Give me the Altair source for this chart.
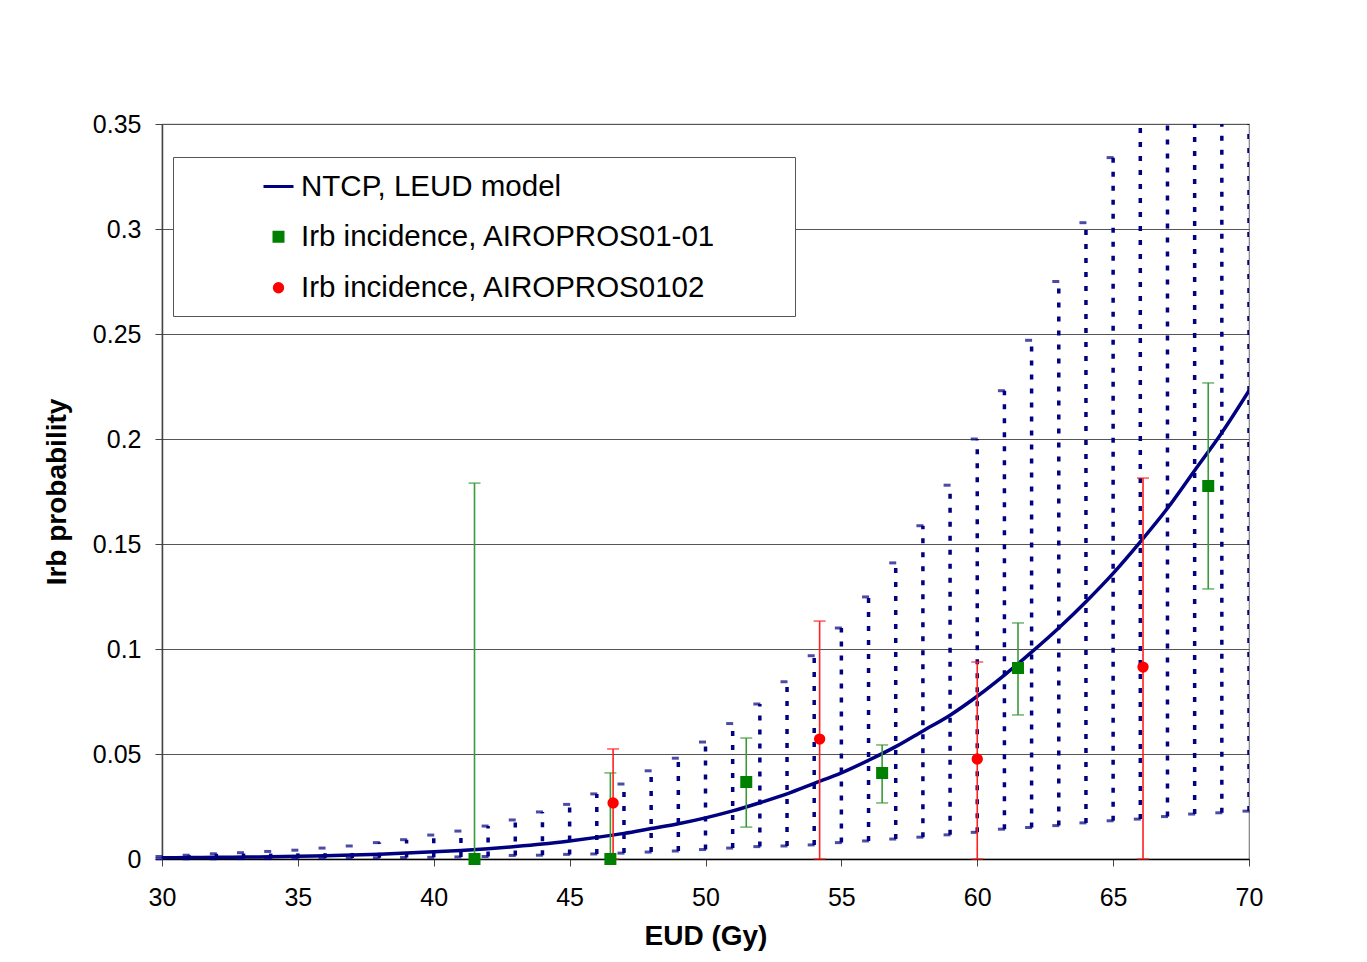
import altair as alt
import pandas as pd

NAVY = "#000080"
FONT = "Liberation Sans"

# ---- model band (dotted confidence interval) and NTCP curve at each integer EUD ----
eud = list(range(30, 71))
band_upper = [0.0012, 0.0018, 0.0025, 0.0030, 0.0036, 0.0042, 0.0052, 0.0062, 0.0078, 0.0092,
              0.0114, 0.0133, 0.0157, 0.0186, 0.0224, 0.0260, 0.0310, 0.0357, 0.0420, 0.0480,
              0.0557, 0.0645, 0.0738, 0.0844, 0.0968, 0.1100, 0.1248, 0.1410, 0.1587, 0.1780,
              0.2000, 0.2230, 0.2470, 0.2750, 0.3030, 0.3340, 0.3660, 0.4000, 0.4350, 0.4700,
              0.5100]
band_lower = [0.0000, 0.0001, 0.0001, 0.0002, 0.0002, 0.0003, 0.0004, 0.0005, 0.0006, 0.0007,
              0.0008, 0.0010, 0.0012, 0.0017, 0.0018, 0.0022, 0.0024, 0.0028, 0.0033, 0.0038,
              0.0045, 0.0052, 0.0059, 0.0062, 0.0067, 0.0078, 0.0086, 0.0095, 0.0104, 0.0115,
              0.0127, 0.0142, 0.0150, 0.0159, 0.0172, 0.0182, 0.0190, 0.0202, 0.0214, 0.0220,
              0.0228]
ntcp = [0.0006, 0.0007, 0.0008, 0.0009, 0.0011, 0.0013, 0.0016, 0.0019, 0.0023, 0.0028,
        0.0034, 0.0041, 0.0049, 0.0059, 0.0071, 0.0086, 0.0103, 0.0122, 0.0145, 0.0168,
        0.0196, 0.0229, 0.0268, 0.0310, 0.0360, 0.0410, 0.0470, 0.0535, 0.0610, 0.0685,
        0.0775, 0.0876, 0.0985, 0.1100, 0.1225, 0.1360, 0.1510, 0.1670, 0.1850, 0.2030,
        0.2230]

S_MODEL = "NTCP, LEUD model"
S_A = "Irb incidence, AIROPROS01-01"
S_B = "Irb incidence, AIROPROS0102"
series_names = [S_MODEL, S_A, S_B]

# ---- observed incidences with error bars ----
a_x = [41.5, 46.5, 51.5, 56.5, 61.5, 68.5]
a_val = [0.0, 0.0, 0.0367, 0.0410, 0.0910, 0.1776]
a_lo = [0.0, 0.0, 0.0152, 0.0267, 0.0686, 0.1286]
a_hi = [0.179, 0.041, 0.0576, 0.0543, 0.1124, 0.2267]

b_x = [46.6, 54.2, 60.0, 66.1]
b_val = [0.0267, 0.0571, 0.0476, 0.0914]
b_lo = [0.0, 0.0, 0.0, 0.0]
b_hi = [0.0524, 0.1133, 0.0938, 0.1814]

band_df = pd.DataFrame({"eud": eud, "lower": band_lower, "upper": band_upper})
curve_df = pd.DataFrame({"eud": eud, "ntcp": ntcp, "series": S_MODEL})
a_df = pd.DataFrame({"eud": a_x, "val": a_val, "lo": a_lo, "hi": a_hi, "series": S_A})
b_df = pd.DataFrame({"eud": b_x, "val": b_val, "lo": b_lo, "hi": b_hi, "series": S_B})
pts_df = pd.concat([a_df, b_df], ignore_index=True)

x_scale = alt.Scale(domain=[30, 70], nice=False, zero=False)
y_scale = alt.Scale(domain=[0, 0.35], nice=False)

x_axis = alt.Axis(values=list(range(30, 71, 5)), title="EUD (Gy)", grid=False,
                  labelFontSize=25, titleFontSize=28, titleFontWeight="bold",
                  labelFont=FONT, titleFont=FONT, labelColor="black", titleColor="black",
                  tickSize=7, tickColor="#444", domainColor="black", domainWidth=1.5,
                  labelPadding=19, titlePadding=12, labelFlush=False)
y_axis = alt.Axis(values=[0, 0.05, 0.1, 0.15, 0.2, 0.25, 0.3, 0.35], format="~g",
                  title="Irb probability", grid=True, gridColor="#555", gridWidth=1.2,
                  labelFontSize=25, titleFontSize=28, titleFontWeight="bold",
                  labelFont=FONT, titleFont=FONT, labelColor="black", titleColor="black",
                  tickSize=7, tickColor="#444", domainColor="#444", domainWidth=1.5,
                  labelPadding=14, titlePadding=21, labelFlush=False)

X = alt.X("eud:Q", scale=x_scale, axis=x_axis)

def Y(field):
    return alt.Y(field, scale=y_scale, axis=y_axis)

color_scale = alt.Scale(domain=series_names, range=[NAVY, "#008000", "#ff0000"])
pad_chars = "\u2800" * 3
legend = alt.Legend(title=None, orient="none", legendX=11, legendY=33, padding=13,
                    symbolOffset=76, labelOffset=6, labelFontSize=29.5, labelFont=FONT,
                    labelColor="black", rowPadding=20, fillColor="white",
                    strokeColor="#555", symbolStrokeWidth=3, labelLimit=1000,
                    labelExpr="datum.label + '" + pad_chars + "'")

band = alt.Chart(band_df).mark_rule(color=NAVY, strokeWidth=3.5, strokeDash=[5, 9], clip=True).encode(
    x=X, y=Y("lower:Q"), y2="upper:Q")
cap_top = alt.Chart(band_df).transform_filter("datum.upper <= 0.35").mark_tick(
    orient="horizontal", size=7, thickness=3, xOffset=-3, color=NAVY).encode(
    x=X, y=Y("upper:Q"))
cap_bot = alt.Chart(band_df).mark_tick(
    orient="horizontal", size=7, thickness=3, xOffset=-3, color=NAVY).encode(
    x=X, y=Y("lower:Q"))

curve = alt.Chart(curve_df).mark_line(strokeWidth=3.5, interpolate="monotone", clip=True).encode(
    x=X, y=Y("ntcp:Q"),
    color=alt.Color("series:N", scale=color_scale, legend=legend))

def err_layers(df, color, width):
    rule = alt.Chart(df).mark_rule(color=color, strokeWidth=width).encode(
        x=X, y=Y("lo:Q"), y2="hi:Q")
    hi = alt.Chart(df).mark_tick(orient="horizontal", size=12, thickness=width, color=color).encode(
        x=X, y=Y("hi:Q"))
    lo = alt.Chart(df).mark_tick(orient="horizontal", size=12, thickness=width, color=color).encode(
        x=X, y=Y("lo:Q"))
    return [rule, hi, lo]

err_a = err_layers(a_df, "#3a9a3a", 1.6)
err_b = err_layers(b_df, "#ff2020", 1.6)

points = alt.Chart(pts_df).mark_point(filled=True, opacity=1, strokeWidth=3).encode(
    x=X, y=Y("val:Q"),
    color=alt.Color("series:N", scale=color_scale, legend=legend),
    stroke=alt.Stroke("series:N", scale=color_scale, legend=legend),
    shape=alt.Shape("series:N", scale=alt.Scale(domain=series_names, range=["stroke", "square", "circle"]), legend=legend),
    size=alt.Size("series:N", scale=alt.Scale(type="ordinal", domain=series_names, range=[900, 81, 70]), legend=legend))

chart = alt.layer(band, cap_top, cap_bot, curve, *err_a, *err_b, points).properties(
    width=1087, height=735,
    autosize=alt.AutoSizeParams(type="none"),
    padding={"left": 154, "top": 116, "right": 110, "bottom": 95},
    background="white",
).configure_view(stroke="#808080", strokeWidth=1.2)

chart.save("out.html", embed_options={"renderer": "svg", "actions": False})
